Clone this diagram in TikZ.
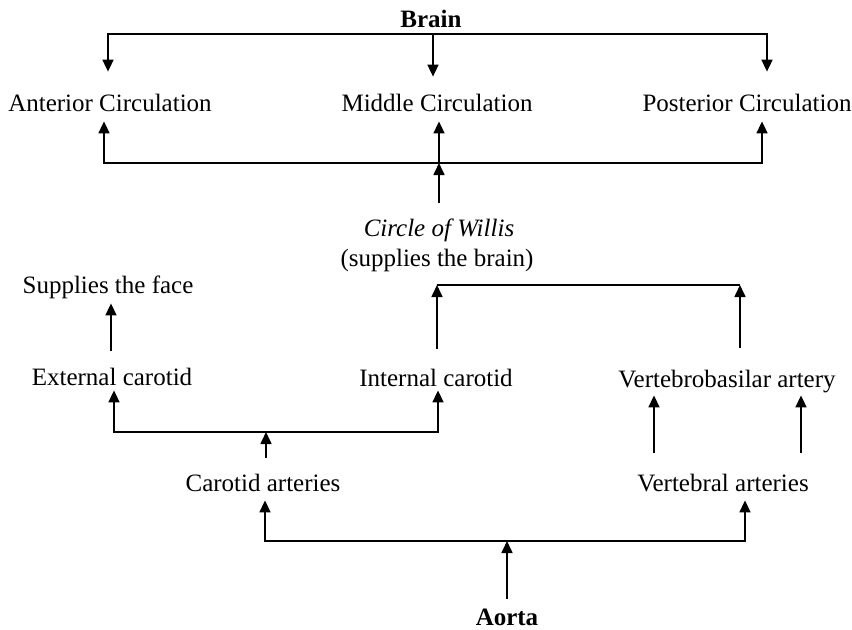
\documentclass[tikz,border=0pt]{standalone}
\usepackage{fontspec}
\setmainfont{Liberation Serif}
\usetikzlibrary{arrows.meta,calc}

\begin{document}
\begin{tikzpicture}[x=0.5pt,y=-0.5pt,
  every node/.style={anchor=base,inner sep=0pt,text height=8.5pt,text depth=0pt,font=\fontsize{12.5}{15}\selectfont},
  link/.style={line width=0.85pt},
  flow/.style={link,-{Triangle[length=6pt,width=5.5pt]}},
  bothway/.style={link,{Triangle[length=6pt,width=5.5pt]}-{Triangle[length=6pt,width=5.5pt]}}]

    \useasboundingbox (0,0) rectangle (852,629);

    \node (brain) at (431,27) {\textbf{Brain}};
    \node (ant) at (110,111) {Anterior Circulation};
    \node (mid) at (437,111) {Middle Circulation};
    \node (post) at (747,111) {Posterior Circulation};
    \node (willis) at (439,236) {\textit{Circle of Willis}};
    \node (supp) at (437,266) {(supplies the brain)};
    \node (face) at (108,293) {Supplies the face};
    \node (ext) at (112,385) {External carotid};
    \node (int) at (436,386) {Internal carotid};
    \node (vb) at (727,387) {Vertebrobasilar artery};
    \node (car) at (263,491) {Carotid arteries};
    \node (vert) at (723,491) {Vertebral arteries};
    \node (aorta) at (507,625) {\textbf{Aorta}};

    \coordinate (topL) at (108,34);
    \coordinate (topM) at (433,34);
    \coordinate (topR) at (767,34);
    \coordinate (circL) at (104,163);
    \coordinate (circM) at (439,163);
    \coordinate (circR) at (762,163);
    \coordinate (willL) at (437,285);
    \coordinate (willR) at (740,285);
    \coordinate (carL) at (114,432);
    \coordinate (carM) at (266,432);
    \coordinate (carR) at (438,432);
    \coordinate (aoL) at (265,541);
    \coordinate (aoM) at (507,541);
    \coordinate (aoR) at (745,541);

    \draw[bothway,shorten <=11pt,shorten >=11pt](topL |- ant.north)--(topL)--(topR)--(topR |- post.north);
    \draw[flow,shorten >=8.5pt](topM)--(topM |- mid.north);

    \draw[bothway,shorten <=5pt,shorten >=5pt](circL |- ant.south)--(circL)--(circR)--(circR |- post.south);
    \draw[flow,shorten >=5pt](circM)--(circM |- mid.south);
    \draw[flow,shorten <=8pt](circM |- willis.north)--(circM);

    \draw[link](willL)--(willR);
    \draw[flow,shorten <=10pt](willL |- int.north)--(willL);
    \draw[flow,shorten <=11pt](willR |- vb.north)--(willR);

    \draw[flow,shorten <=8.5pt,shorten >=5pt]([xshift=-0.5pt]ext.north)--([xshift=-0.5pt]ext.north |- face.south);

    \draw[bothway,shorten <=2.5pt,shorten >=2pt](carL |- ext.south)--(carL)--(carR)--(carR |- int.south);
    \draw[flow,shorten <=8pt](carM |- car.north)--(carM);

    \draw[flow,shorten <=10.5pt,shorten >=4pt]([xshift=-34.5pt]vert.north)--([xshift=-34.5pt]vert.north |- vb.south);
    \draw[flow,shorten <=10.5pt,shorten >=4pt]([xshift=39pt]vert.north)--([xshift=39pt]vert.north |- vb.south);

    \draw[bothway,shorten <=4.5pt,shorten >=4.5pt](aoL |- car.south)--(aoL)--(aoR)--(aoR |- vert.south);
    \draw[flow,shorten <=4.5pt](aoM |- aorta.north)--(aoM);
  \end{tikzpicture}
\end{document}
